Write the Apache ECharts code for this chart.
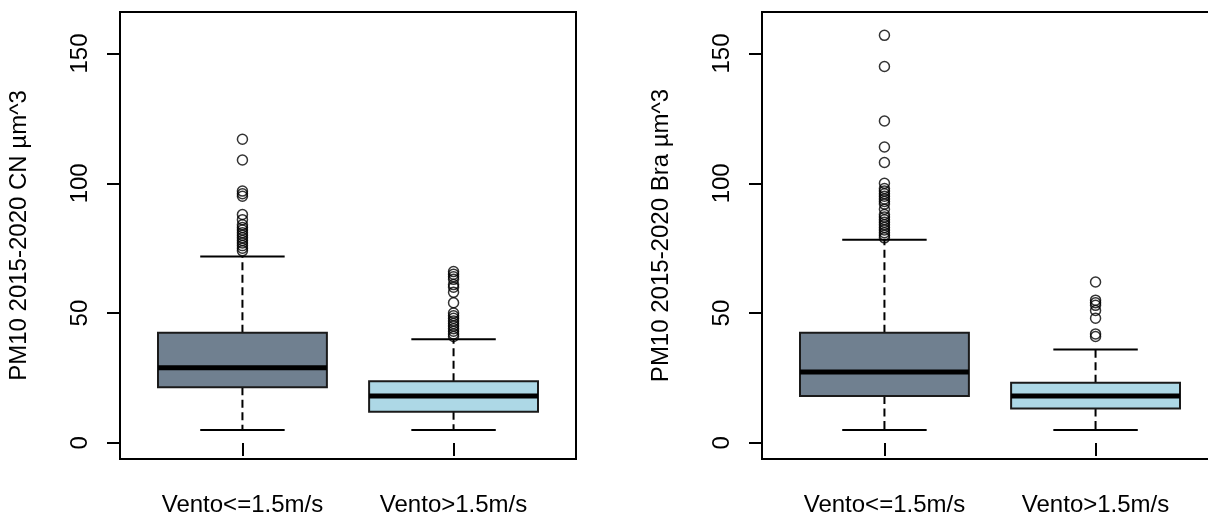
<!DOCTYPE html>
<html>
<head>
<meta charset="utf-8">
<script src="https://cdn.jsdelivr.net/npm/echarts@6/dist/echarts.min.js"></script>
<style>
html,body{margin:0;padding:0;background:#fff;}
#chart{width:1208px;height:515px;}
</style>
</head>
<body>
<div id="chart"></div>
<script>
// ---- data ----
const categories = ['Vento<=1.5m/s', 'Vento>1.5m/s'];
const yTicks = [0, 50, 100, 150];
const yTitleCN = 'PM10 2015-2020 CN µm^3';
const yTitleBra = 'PM10 2015-2020 Bra µm^3';
// [min, Q1, median, Q3, max] per category
const cnStats = [[5, 21.4, 29, 42.4, 71.8], [5, 12, 18.1, 23.8, 39.9]];
const braStats = [[5, 18.1, 27.3, 42.4, 78.3], [5, 13.3, 18.1, 23.2, 36]];
const cnOutliers1 = [117, 109, 97, 96, 95, 88, 86, 84, 83, 82, 81, 80, 79, 78, 77, 76, 75, 74];
const cnOutliers2 = [66, 65, 64, 63, 61, 60, 58, 54, 50, 49, 48, 47, 46, 45, 44, 43, 42, 41];
const braOutliers1 = [157, 145, 124, 114, 108, 100, 98, 97, 96, 95, 94, 93, 92, 90, 88, 87, 86, 85, 84, 83, 82, 81, 80, 79];
const braOutliers2 = [62, 55, 54, 53, 51, 48, 42, 41];

// ---- styles ----
const boxFills = ['#708090', '#ADD8E6'];
const FONT = 'Liberation Sans, Arial, sans-serif';

function renderBox(params, api) {
  const x = api.value(0);
  const lo = api.coord([x, api.value(1)]);
  const q1 = api.coord([x, api.value(2)]);
  const md = api.coord([x, api.value(3)]);
  const q3 = api.coord([x, api.value(4)]);
  const hi = api.coord([x, api.value(5)]);
  const bw = api.size([0.8, 0])[0];
  const cw = api.size([0.4, 0])[0];
  const cx = lo[0];
  const dash = {stroke: '#000', lineWidth: 2, lineDash: [8, 4.5]};
  const solid = {stroke: '#000', lineWidth: 2};
  return {
    type: 'group',
    children: [
      {type: 'line', shape: {x1: cx, y1: q1[1], x2: cx, y2: lo[1]}, style: dash},
      {type: 'line', shape: {x1: cx, y1: q3[1], x2: cx, y2: hi[1]}, style: dash},
      {type: 'line', shape: {x1: cx - cw / 2, y1: lo[1], x2: cx + cw / 2, y2: lo[1]}, style: solid},
      {type: 'line', shape: {x1: cx - cw / 2, y1: hi[1], x2: cx + cw / 2, y2: hi[1]}, style: solid},
      {type: 'rect', shape: {x: cx - bw / 2, y: q3[1], width: bw, height: q1[1] - q3[1]},
        style: {fill: boxFills[params.dataIndex], stroke: '#1a1a1a', lineWidth: 2}},
      {type: 'line', shape: {x1: cx - bw / 2, y1: md[1], x2: cx + bw / 2, y2: md[1]},
        style: {stroke: '#000', lineWidth: 5}}
    ]
  };
}

function boxData(stats) {
  return stats.map((s, i) => [i + 1].concat(s));
}
function outlierData(list1, list2) {
  return list1.map(v => [1, v]).concat(list2.map(v => [2, v]));
}

function makeX(idx) {
  return {
    gridIndex: idx, type: 'value', min: 0.42, max: 2.58,
    axisLine: {show: false}, splitLine: {show: false},
    axisTick: {show: true, customValues: [1, 2], length: 13, lineStyle: {color: '#000', width: 2}},
    axisLabel: {customValues: [1, 2], margin: 34, fontSize: 24, color: '#000', fontFamily: FONT,
      formatter: v => categories[Math.round(v) - 1]}
  };
}
function makeY(idx, title) {
  return {
    gridIndex: idx, type: 'value', min: -6.2, max: 166,
    name: title, nameLocation: 'middle', nameGap: 89,
    nameTextStyle: {fontSize: 24, color: '#000', fontFamily: FONT},
    axisLine: {show: false}, splitLine: {show: false},
    axisTick: {show: true, customValues: yTicks, length: 13, lineStyle: {color: '#000', width: 2}},
    axisLabel: {customValues: yTicks, rotate: 90, margin: 28, fontSize: 24, color: '#000', fontFamily: FONT}
  };
}

const chart = echarts.init(document.getElementById('chart'), null, {renderer: 'canvas'});
chart.setOption({
  animation: false,
  backgroundColor: '#fff',
  grid: [
    {left: 120, top: 12, width: 456, height: 447, show: true, borderColor: '#000', borderWidth: 2,
      backgroundColor: 'transparent', outerBoundsMode: 'none', containLabel: false},
    {left: 762, top: 12, width: 456, height: 447, show: true, borderColor: '#000', borderWidth: 2,
      backgroundColor: 'transparent', outerBoundsMode: 'none', containLabel: false}
  ],
  xAxis: [makeX(0), makeX(1)],
  yAxis: [makeY(0, yTitleCN), makeY(1, yTitleBra)],
  series: [
    {type: 'custom', xAxisIndex: 0, yAxisIndex: 0, renderItem: renderBox, data: boxData(cnStats),
      encode: {x: 0, y: [1, 2, 3, 4, 5]}, z: 2},
    {type: 'custom', xAxisIndex: 1, yAxisIndex: 1, renderItem: renderBox, data: boxData(braStats),
      encode: {x: 0, y: [1, 2, 3, 4, 5]}, z: 2},
    {type: 'scatter', xAxisIndex: 0, yAxisIndex: 0, data: outlierData(cnOutliers1, cnOutliers2),
      symbol: 'circle', symbolSize: 10, z: 3,
      itemStyle: {color: 'rgba(0,0,0,0)', borderColor: '#000', borderWidth: 1.5}},
    {type: 'scatter', xAxisIndex: 1, yAxisIndex: 1, data: outlierData(braOutliers1, braOutliers2),
      symbol: 'circle', symbolSize: 10, z: 3,
      itemStyle: {color: 'rgba(0,0,0,0)', borderColor: '#000', borderWidth: 1.5}}
  ]
});
</script>
</body>
</html>
